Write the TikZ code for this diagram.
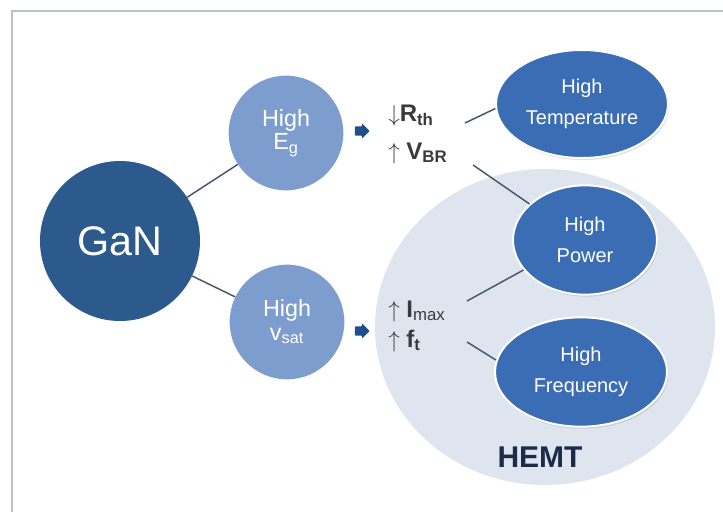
\documentclass[tikz,border=0pt]{standalone}
\usepackage{fontspec}
\setmainfont{Liberation Sans}
\usetikzlibrary{shapes.geometric,shapes.arrows,shadows}
\definecolor{gandark}{HTML}{2C5A8C}
\definecolor{proplight}{HTML}{7E9DCF}
\definecolor{appblue}{HTML}{3A6DB3}
\definecolor{hemtgray}{HTML}{DFE5EF}
\definecolor{linkgray}{HTML}{46566C}
\definecolor{textgray}{HTML}{3A3A3A}
\definecolor{hemtnavy}{HTML}{1B2B48}
\definecolor{framegray}{HTML}{BCC0C8}
\definecolor{pushblue}{HTML}{1F4E8C}

\begin{document}
\begin{tikzpicture}[x=0.75pt,y=-0.75pt,
  mat/.style={circle,fill=gandark,text=white,minimum size=120pt,inner sep=0pt,
    font=\fontsize{31}{34}\selectfont},
  prop/.style={circle,fill=proplight,text=white,minimum size=86pt,inner sep=0pt,
    align=center,font=\fontsize{17.5}{17.5}\selectfont},
  app/.style={ellipse,fill=appblue,draw=white,line width=1.5pt,text=white,
    inner sep=0pt,align=center,font=\fontsize{15}{23}\selectfont,
    drop shadow={shadow xshift=1pt,shadow yshift=-1.5pt,opacity=0.25,fill=gray}},
  effect/.style={anchor=base west,text=textgray,inner sep=0pt,
    font=\fontsize{18}{20}\selectfont},
  link/.style={linkgray,line width=1.1pt},
  push/.style={single arrow,fill=pushblue,inner xsep=0pt,inner ysep=3.2pt,
    minimum height=11pt,single arrow head extend=2.3pt,rounded corners=0.6pt}]
  \useasboundingbox[fill=white] (0,0) rectangle (723,514);
  \draw[framegray,line width=1pt] (12,512) -- (12,11) -- (723,11);
  \fill[hemtgray] (545,327) ellipse [x radius=170,y radius=158];

  \node[mat] (gan) at (120,241) {GaN};
  \node[prop] (eg) at (286,133) {High\\E\textsubscript{g}};
  \node[prop] (vsat) at (287,322) {High\\v\textsubscript{sat}};
  \node[push] (pusheg) at (360,131) {};
  \node[push] (pushvs) at (360,331) {};
  \node[effect] (rth) at (388,121) {$\downarrow$\textbf{R\textsubscript{th}}};
  \node[effect] (vbr) at (388,159) {$\uparrow$ \textbf{V\textsubscript{BR}}};
  \node[effect] (imax) at (388,317) {$\uparrow$ \textbf{I}\textsubscript{max}};
  \node[effect] (ft) at (388,347) {$\uparrow$ \textbf{f\textsubscript{t}}};
  \node[app,minimum width=129pt,minimum height=81pt] (temp) at (582,104) {High\\Temperature};
  \node[app,minimum width=108pt,minimum height=82pt] (pow) at (585,240) {High\\Power};
  \node[app,minimum width=129pt,minimum height=82pt] (freq) at (581,372) {High\\Frequency};
  \node[text=hemtnavy,font=\bfseries\fontsize{22.5}{24}\selectfont] (hemt) at (540,457) {HEMT};

  \coordinate (rthx) at (465,123);
  \coordinate (vbrx) at (473,165);
  \coordinate (imaxx) at (467,301);
  \coordinate (ftx) at (467,342);
  \draw[link] (gan) -- (eg);
  \draw[link] (gan) -- (vsat);
  \draw[link] (rthx) -- (temp.183);
  \draw[link] (vbrx) -- (pow.147);
  \draw[link] (imaxx) -- (pow.206);
  \draw[link] (ftx) -- (freq.172);
\end{tikzpicture}
\end{document}
